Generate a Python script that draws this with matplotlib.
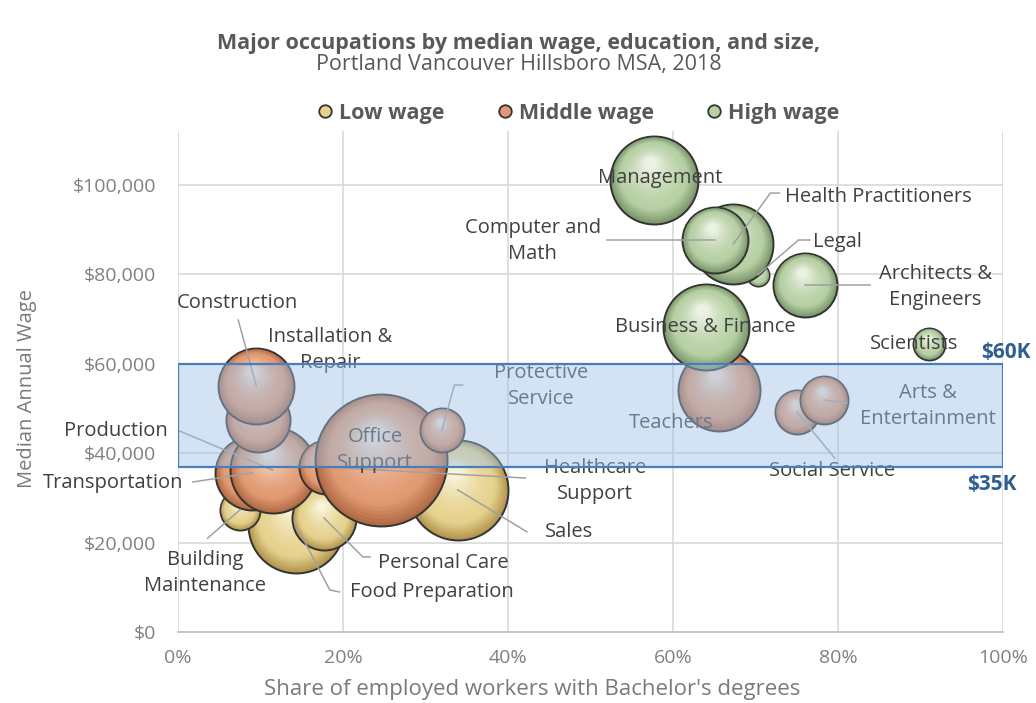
import numpy as np
import matplotlib
matplotlib.use('Agg')
import matplotlib.pyplot as plt
from matplotlib.markers import MarkerStyle
from matplotlib.transforms import Affine2D
from matplotlib.patches import Rectangle
from matplotlib.lines import Line2D
from matplotlib.colors import to_rgb

plt.rcParams['font.family'] = ['Open Sans', 'DejaVu Sans']

# data (drawing order: back to front)
occupations = ['Sales', 'Food Preparation', 'Building Maintenance', 'Personal Care',
               'Transportation', 'Production', 'Healthcare Support', 'Office Support',
               'Protective Service', 'Installation & Repair', 'Construction', 'Teachers',
               'Social Service', 'Arts & Entertainment', 'Legal', 'Health Practitioners',
               'Computer and Math', 'Management', 'Architects & Engineers',
               'Business & Finance', 'Scientists']
wage_group = ['Low', 'Low', 'Low', 'Low',
              'Middle', 'Middle', 'Middle', 'Middle',
              'Middle', 'Middle', 'Middle', 'Middle',
              'Middle', 'Middle', 'High', 'High',
              'High', 'High', 'High',
              'High', 'High']
bachelor_share = [33.9, 14.3, 7.5, 17.7,
                  9.0, 11.5, 17.9, 24.6,
                  32.0, 9.7, 9.5, 65.6,
                  75.0, 78.3, 70.3, 67.3,
                  65.1, 57.7, 76.0,
                  64.0, 91.0]
median_wage = [31800, 24000, 27300, 25500,
               35600, 36200, 36900, 38500,
               45200, 47400, 55000, 54100,
               49200, 51900, 79900, 86800,
               87700, 101100, 77600,
               68200, 64400]
employment = [86100, 79300, 13800, 35300,
              47100, 63700, 25100, 150000,
              16700, 35300, 49700, 57900,
              16700, 19800, 4200, 55100,
              37500, 66700, 35300,
              63700, 8800]

band_low, band_high = 36900, 60000

# colours: rim, body, highlight
palette = {
    'Low': ('#b39650', '#e6d28e', '#fbf7e0'),
    'Middle': ('#b06a45', '#e29a72', '#f7e6d8'),
    'High': ('#7c976c', '#b7d0a4', '#f0f6ea'),
}

# label layout: text position, alignment, leader points (ends at bubble centre)
labels = {
    'Management': ((58.4, 101500), 'center', None),
    'Health Practitioners': ((73.6, 97300), 'left', [(72.9, 98200), (71.8, 98200)]),
    'Computer and Math': ((43.0, 87400), 'center', [(52.0, 87700)]),
    'Legal': ((77.0, 87200), 'left', [(76.6, 87700), (75.2, 87700)]),
    'Architects & Engineers': ((91.8, 77200), 'center', [(83.9, 77600)]),
    'Business & Finance': ((63.9, 68200), 'center', None),
    'Scientists': ((89.2, 64400), 'center', None),
    'Construction': ((7.2, 73600), 'center', [(7.3, 69800)]),
    'Installation & Repair': ((18.4, 63100), 'center', None),
    'Protective Service': ((44.0, 55000), 'center', [(34.5, 55250), (33.5, 55250)]),
    'Office Support': ((23.9, 40700), 'center', None),
    'Production': ((-1.3, 44960), 'right', [(-0.1, 45190)]),
    'Transportation': ((0.6, 33300), 'right', [(1.8, 33560)]),
    'Healthcare Support': ((50.5, 33800), 'center', [(42.1, 34450)]),
    'Sales': ((44.5, 22400), 'left', [(42.3, 22400)]),
    'Building Maintenance': ((3.3, 13200), 'center', [(3.6, 21000)]),
    'Personal Care': ((24.2, 15500), 'left', [(23.3, 16800), (22.4, 16800)]),
    'Food Preparation': ((20.8, 8950), 'left', [(19.6, 8950), (18.4, 9400)]),
    'Teachers': ((59.8, 46750), 'center', None),
    'Arts & Entertainment': ((90.9, 50600), 'center', [(81.1, 51230)]),
    'Social Service': ((79.3, 36000), 'center', [(79.6, 38900)]),
}
wrapped = {
    'Computer and Math': 'Computer and\nMath',
    'Architects & Engineers': 'Architects &\nEngineers',
    'Installation & Repair': 'Installation &\nRepair',
    'Protective Service': 'Protective\nService',
    'Office Support': 'Office\nSupport',
    'Healthcare Support': 'Healthcare\nSupport',
    'Building Maintenance': 'Building\nMaintenance',
    'Arts & Entertainment': 'Arts &\nEntertainment',
}

fig = plt.figure(figsize=(10.36, 7.03), dpi=100)
ax = fig.add_axes([0.1718, 0.1010, 0.7964, 0.7121])
ax.set_xlim(0, 100)
ax.set_ylim(0, 112000)

emp = np.array(employment, dtype=float)
sizes = emp / emp.max() * 95.0 ** 2


def shaded_bubble(x, y, s, cols, z):
    rim, body, hi = [np.array(to_rgb(c)) for c in cols]
    ax.scatter([x], [y], s=s, color=rim, edgecolor='#333333', linewidth=1.4, zorder=z)
    n = 22
    for k in range(1, n):
        t = k / n
        if t < 0.25:
            c = rim + (body - rim) * (t / 0.25)
        else:
            c = body + (hi - body) * ((t - 0.25) / 0.75) ** 1.6
        m = MarkerStyle('o', transform=Affine2D().scale(1 - 0.9 * t).translate(-0.05 * t, 0.2 * t))
        ax.scatter([x], [y], s=s, marker=m, color=c, linewidth=0, zorder=z)


for i, name in enumerate(occupations):
    shaded_bubble(bachelor_share[i], median_wage[i], sizes[i], palette[wage_group[i]], 2 + i * 0.01)

# labels and leader lines
for i, name in enumerate(occupations):
    (tx, ty), ha, leader = labels[name]
    ax.text(tx, ty, wrapped.get(name, name), ha=ha, va='center', fontsize=14.5,
            color='#404040', zorder=5, linespacing=1.4)
    if leader:
        pts = leader + [(bachelor_share[i], median_wage[i])]
        ax.plot([p[0] for p in pts], [p[1] for p in pts], color='#a0a0a0', lw=1.1, zorder=4.5)

# band of middle wages
ax.add_patch(Rectangle((0, band_low), 100, band_high - band_low, facecolor=(0.62, 0.76, 0.91, 0.45),
                       edgecolor='#4a7ebb', linewidth=1.6, zorder=6))
ax.text(103.3, 62600, '$60K', ha='right', va='center', fontsize=15, fontweight='bold',
        color='#2f5f8f', clip_on=False)
ax.text(95.6, 33100, '$35K', ha='left', va='center', fontsize=15, fontweight='bold',
        color='#2f5f8f', clip_on=False)

ax.set_yticks(np.arange(0, 100001, 20000))
ax.set_yticklabels(['$0', '$20,000', '$40,000', '$60,000', '$80,000', '$100,000'])
ax.set_xticks(np.arange(0, 101, 20))
ax.set_xticklabels(['0%', '20%', '40%', '60%', '80%', '100%'])
ax.tick_params(length=0, labelsize=14, labelcolor='#808080')
ax.tick_params(axis='y', pad=16)
ax.tick_params(axis='x', pad=12)
ax.grid(color='#d9d9d9', lw=1.2, zorder=0)
ax.set_axisbelow(True)
for sp in ['top', 'right', 'left']:
    ax.spines[sp].set_visible(False)
ax.spines['bottom'].set_color('#bfbfbf')
ax.spines['bottom'].set_linewidth(1.2)

ax.set_xlabel("Share of employed workers with Bachelor's degrees", fontsize=16, color='#7a7a7a')
ax.set_ylabel('Median Annual Wage', fontsize=14.5, color='#7a7a7a')
ax.xaxis.set_label_coords(0.429, -0.094)
ax.yaxis.set_label_coords(-0.171, 0.487)

fig.text(0.501, 0.938, 'Major occupations by median wage, education, and size,', ha='center',
         va='center', fontsize=15.5, fontweight='bold', color='#595959')
fig.text(0.501, 0.908, 'Portland Vancouver Hillsboro MSA, 2018', ha='center', va='center',
         fontsize=15.5, color='#595959')

handles = [Line2D([], [], marker='o', ls='', markerfacecolor=palette[g][1], markeredgecolor='#333333',
                  markeredgewidth=1.3, markersize=9) for g in ['Low', 'Middle', 'High']]
fig.legend(handles, ['Low wage', 'Middle wage', 'High wage'], loc='center', ncol=3,
           bbox_to_anchor=(0.556, 0.839), frameon=False, handletextpad=0.05, columnspacing=2.2,
           handlelength=1.2, prop={'size': 15.5, 'weight': 'bold'}, labelcolor='#595959')

fig.savefig('out.png', dpi=100)
